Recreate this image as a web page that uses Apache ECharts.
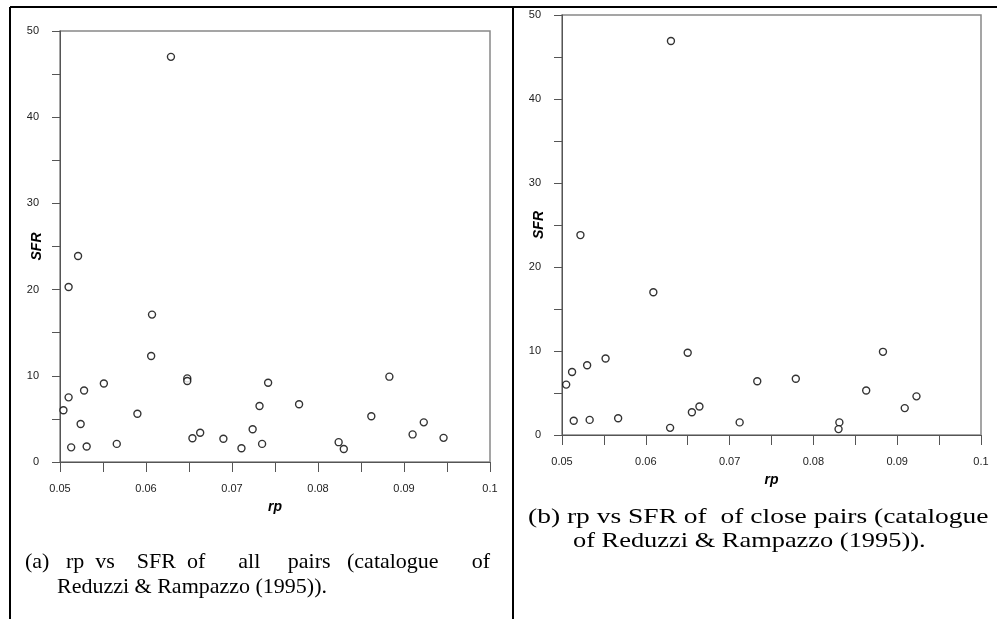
<!DOCTYPE html>
<html>
<head>
<meta charset="utf-8">
<script src="https://cdn.jsdelivr.net/npm/echarts@6/dist/echarts.min.js"></script>
<style>
  html, body { margin: 0; padding: 0; background: #fff; }
  #chart { width: 997px; height: 619px; }
</style>
</head>
<body>
<div id="chart"></div>
<script>
// (a) all pairs
const rpAll = [0.0504, 0.0510, 0.0513, 0.0510, 0.0521, 0.0524, 0.0528, 0.0531, 0.0551, 0.0566,
  0.0590, 0.0606, 0.0607, 0.0629, 0.0648, 0.0648, 0.0654, 0.0663, 0.0690, 0.0711,
  0.0724, 0.0732, 0.0735, 0.0742, 0.0778, 0.0824, 0.0830, 0.0862, 0.0883, 0.0910,
  0.0923, 0.0946];
const sfrAll = [6.0, 7.5, 1.7, 20.3, 23.9, 4.4, 8.3, 1.8, 9.1, 2.1,
  5.6, 12.3, 17.1, 47.0, 9.7, 9.4, 2.75, 3.4, 2.7, 1.6,
  3.8, 6.5, 2.1, 9.2, 6.7, 2.3, 1.5, 5.3, 9.9, 3.2,
  4.6, 2.8];

// (b) close pairs
const rpClose = [0.0505, 0.0512, 0.0514, 0.0522, 0.0530, 0.0533, 0.0552, 0.0567, 0.0609, 0.0629,
  0.0630, 0.0650, 0.0655, 0.0664, 0.0712, 0.0733, 0.0779, 0.0831, 0.0830, 0.0863,
  0.0883, 0.0909, 0.0923];
const sfrClose = [6.0, 7.5, 1.7, 23.8, 8.3, 1.8, 9.1, 2.0, 17.0, 0.85,
  46.9, 9.8, 2.7, 3.4, 1.5, 6.4, 6.7, 1.5, 0.7, 5.3,
  9.9, 3.2, 4.6];

const captionA = ['(a)   rp  vs    SFR  of      all     pairs   (catalogue      of', 'Reduzzi & Rampazzo (1995)).'];
const captionB = ['(b) rp vs SFR of  of close pairs (catalogue', 'of Reduzzi & Rampazzo (1995)).'];

const chart = echarts.init(document.getElementById('chart'));

function toPairs(xs, ys) {
  return xs.map((x, i) => [x, ys[i]]);
}

const labelFont = { fontFamily: 'Arial, "Liberation Sans", sans-serif', fontSize: 11, color: '#222' };
const nameFont = { fontFamily: 'Arial, "Liberation Sans", sans-serif', fontSize: 14, fontWeight: 'bold', fontStyle: 'italic', color: '#000' };

function xAxisFor(idx) {
  return {
    gridIndex: idx,
    type: 'value',
    min: 0.05,
    max: 0.1,
    interval: 0.005,
    name: 'rp',
    nameLocation: 'middle',
    nameGap: 38,
    nameMoveOverlap: false,
    nameTextStyle: nameFont,
    axisLine: { lineStyle: { color: '#555', width: 1 } },
    axisTick: { inside: false, length: 10, lineStyle: { color: '#555' } },
    axisLabel: Object.assign({
      margin: 21,
      formatter: (v) => (Math.round(v * 1000) % 10 === 0 ? String(parseFloat(v.toFixed(3))) : '')
    }, labelFont),
    splitLine: { show: false }
  };
}

function yAxisFor(idx) {
  return {
    gridIndex: idx,
    type: 'value',
    min: 0,
    max: 50,
    interval: 5,
    name: 'SFR',
    nameLocation: 'middle',
    nameGap: 16,
    nameMoveOverlap: false,
    nameTextStyle: nameFont,
    axisLine: { show: true, lineStyle: { color: '#555', width: 1 } },
    axisTick: { show: true, inside: false, length: 8, lineStyle: { color: '#555' } },
    axisLabel: Object.assign({
      margin: 21,
      formatter: (v) => (v % 10 === 0 ? String(v) : '')
    }, labelFont),
    splitLine: { show: false }
  };
}

const dotStyle = { color: '#fff', borderColor: '#000', borderWidth: 1.4 };

const captionStyle = { fontFamily: '"Liberation Serif", "Times New Roman", serif', fontSize: 22, fill: '#000', textVerticalAlign: 'middle' };

function caption(text, x, y, sx) {
  return { type: 'text', x: x, y: y, scaleX: sx, style: Object.assign({ text: text }, captionStyle) };
}

const option = {
  animation: false,
  grid: [
    { left: 60, right: 507, top: 31, bottom: 157, show: true, borderColor: '#888', borderWidth: 1.5 },
    { left: 562, right: 16, top: 15, bottom: 184, show: true, borderColor: '#888', borderWidth: 1.5 }
  ],
  xAxis: [xAxisFor(0), xAxisFor(1)],
  yAxis: [yAxisFor(0), yAxisFor(1)],
  series: [
    {
      name: 'all pairs',
      type: 'scatter',
      xAxisIndex: 0,
      yAxisIndex: 0,
      symbol: 'circle',
      symbolSize: 7,
      itemStyle: dotStyle,
      data: toPairs(rpAll, sfrAll)
    },
    {
      name: 'close pairs',
      type: 'scatter',
      xAxisIndex: 1,
      yAxisIndex: 1,
      symbol: 'circle',
      symbolSize: 7,
      itemStyle: dotStyle,
      data: toPairs(rpClose, sfrClose)
    }
  ],
  graphic: [
    // table borders
    { type: 'line', shape: { x1: 10, y1: 7, x2: 997, y2: 7 }, style: { stroke: '#000', lineWidth: 2 } },
    { type: 'line', shape: { x1: 10, y1: 7, x2: 10, y2: 619 }, style: { stroke: '#000', lineWidth: 2 } },
    { type: 'line', shape: { x1: 513, y1: 7, x2: 513, y2: 619 }, style: { stroke: '#000', lineWidth: 2 } },
    // captions
    caption(captionA[0], 25, 562, 1),
    caption(captionA[1], 57, 587, 1),
    caption(captionB[0], 528, 517, 1.25),
    caption(captionB[1], 573, 541, 1.2)
  ]
};

chart.setOption(option);
</script>
</body>
</html>
